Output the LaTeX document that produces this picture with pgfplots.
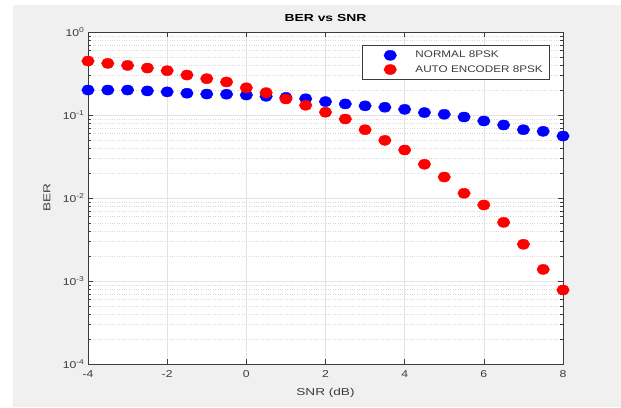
\documentclass[border=0pt]{standalone}
\usepackage{fontspec}
\setmainfont{Liberation Sans}
\newfontfamily\widefont[FakeStretch=1.36]{Liberation Sans}
\newfontfamily\legfont[FakeStretch=1.22]{Liberation Sans}
\usepackage{pgfplots}
\pgfplotsset{compat=1.18}
\definecolor{figbg}{RGB}{240,240,240}
\definecolor{axgray}{RGB}{60,60,60}
\definecolor{mblue}{RGB}{0,0,255}
\definecolor{mred}{RGB}{255,0,0}

\begin{document}
\begin{tikzpicture}
  \fill[white] (0pt,0pt) rectangle (621pt,-407pt);
  \fill[figbg] (13pt,-5pt) rectangle (621pt,-407pt);
  \begin{axis}[
    at={(88pt,-364pt)}, anchor=south west,
    scale only axis, width=475pt, height=332pt,
    ymode=log,
    xmin=-4, xmax=8, ymin=1e-4, ymax=1,
    xtick={-4,-2,0,2,4,6,8},
    xticklabels={-4,-2,0,2,4,6,8},
    ytick={1e-4,1e-3,1e-2,1e-1,1},
    yticklabels={10\textsuperscript{-4},10\textsuperscript{-3},10\textsuperscript{-2},10\textsuperscript{-1},10\textsuperscript{0}},
    ticklabel style={font=\legfont\fontsize{10}{12}\selectfont, text=axgray},
    xticklabel style={yshift=-3pt},
    tick align=inside,
    major tick length=5pt, minor tick length=3pt,
    tick style={axgray, line width=0.5pt},
    axis line style={axgray, line width=0.6pt},
    axis background/.style={fill=white},
    grid=both,
    major grid style={gray!22, line width=0.5pt},
    minor grid style={gray!30, dotted, line width=0.5pt},
    title={BER vs SNR},
    title style={at={(axis description cs:0.5,1.0241)}, anchor=center, font=\widefont\bfseries\fontsize{10.2}{12}\selectfont},
    xlabel={SNR (dB)},
    xlabel style={at={(axis description cs:0.5,-0.0873)}, anchor=center, font=\widefont\fontsize{10}{12}\selectfont, text=axgray},
    ylabel={BER},
    ylabel style={at={(axis description cs:-0.0863,0.5)}, anchor=center, font=\widefont\fontsize{10}{12}\selectfont, text=axgray},
    clip=false,
    legend cell align=left,
    legend image code/.code={\path (0pt,0pt) (47pt,0pt); \path[#1] plot coordinates {(24pt,0pt)};},
    legend style={at={(0.9705,0.9608)}, anchor=north east, draw=axgray, fill=white,
      font=\legfont\fontsize{9.6}{11}\selectfont, inner xsep=4pt, inner ysep=4pt, row sep=2pt,
      text=axgray},
  ]
  \addplot[only marks, mark=*, mark size=5.6pt, color=mblue,
    mark options={solid, fill=mblue, draw=mblue, xscale=1.12, yscale=0.9}]
    coordinates {
    (-4,0.200)(-3.5,0.200)(-3,0.200)(-2.5,0.195)(-2,0.190)(-1.5,0.183)(-1,0.179)
    (-0.5,0.178)(0,0.174)(0.5,0.168)(1,0.163)(1.5,0.157)(2,0.145)(2.5,0.136)
    (3,0.129)(3.5,0.124)(4,0.117)(4.5,0.107)(5,0.102)(5.5,0.0946)(6,0.0847)
    (6.5,0.0758)(7,0.0665)(7.5,0.0636)(8,0.0558)
  };
  \addlegendentry{NORMAL 8PSK}
  \addplot[only marks, mark=*, mark size=5.6pt, color=mred,
    mark options={solid, fill=mred, draw=mred, xscale=1.12, yscale=0.9}]
    coordinates {
    (-4,0.447)(-3.5,0.419)(-3,0.396)(-2.5,0.368)(-2,0.342)(-1.5,0.303)(-1,0.274)
    (-0.5,0.250)(0,0.213)(0.5,0.186)(1,0.156)(1.5,0.131)(2,0.108)(2.5,0.0895)
    (3,0.0665)(3.5,0.0495)(4,0.0379)(4.5,0.0255)(5,0.0179)(5.5,0.0114)(6,0.00824)
    (6.5,0.00509)(7,0.00277)(7.5,0.00138)(8,0.00078)
  };
  \addlegendentry{AUTO ENCODER 8PSK}
  \end{axis}
\end{tikzpicture}
\end{document}
